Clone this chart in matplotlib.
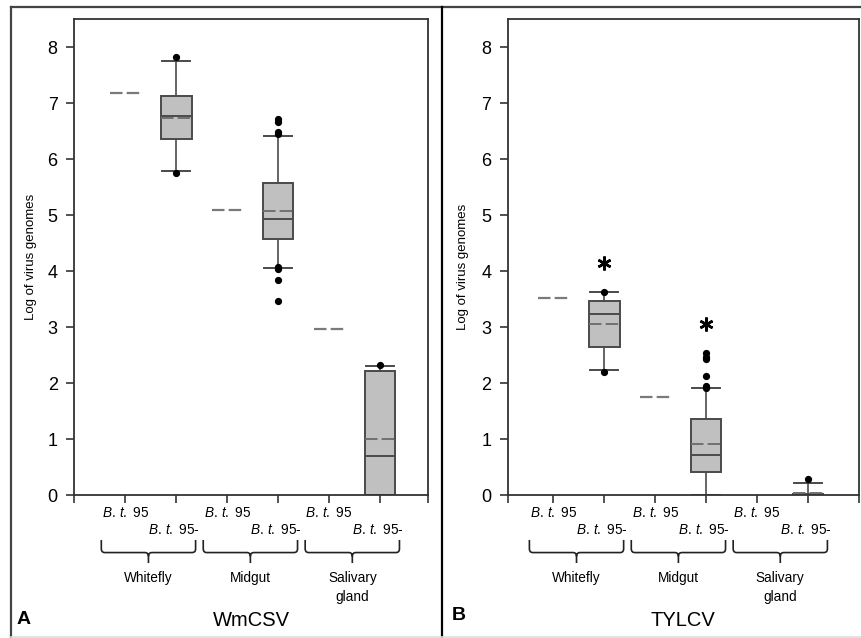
import matplotlib
matplotlib.use("Agg")
import matplotlib.pyplot as plt
from matplotlib.path import Path
from matplotlib.patches import PathPatch
from matplotlib.lines import Line2D

plt.rcParams['font.family'] = ['Liberation Sans', 'DejaVu Sans']
plt.rcParams['mathtext.fontset'] = 'custom'
plt.rcParams['mathtext.it'] = 'Liberation Sans:italic'
plt.rcParams['mathtext.rm'] = 'Liberation Sans'
plt.rcParams['lines.scale_dashes'] = False

# ---------------- data ----------------
groups = ['Whitefly', 'Midgut', 'Salivary\ngland']
species = ['B.', 't.']
strains = ['95', '95-']
panel_titles = ['WmCSV', 'TYLCV']
panel_letters = ['A', 'B']
yticks = [0, 1, 2, 3, 4, 5, 6, 7, 8]

# B. t. 95 single values (dashed mean lines) per group
wm_bt95 = [7.19, 5.09, 2.96]
ty_bt95 = [3.52, 1.76, None]

# B. t. 95- box statistics per group
wm_q1 = [6.37, 4.58, 0.0]
wm_med = [6.78, 4.93, 0.69]
wm_q3 = [7.13, 5.57, 2.22]
wm_mean = [6.74, 5.07, 1.00]
wm_whislo = [5.79, 4.06, 0.0]
wm_whishi = [7.76, 6.42, 2.30]
wm_fliers = [[7.83, 5.76], [6.72, 6.67, 6.49, 6.45, 4.08, 4.03, 3.84, 3.47], [2.33]]

ty_q1 = [2.65, 0.41, 0.0]
ty_med = [3.23, 0.72, 0.0]
ty_q3 = [3.46, 1.35, 0.02]
ty_mean = [3.06, 0.91, 0.03]
ty_whislo = [2.23, 0.0, 0.0]
ty_whishi = [3.63, 1.92, 0.22]
ty_fliers = [[3.63, 2.19], [2.54, 2.47, 2.43, 2.13, 1.95, 1.91], [0.28]]

# significance markers (TYLCV)
ty_star_pos = [2, 4]
ty_star_y = [4.14, 3.05]

# ---------------- figure ----------------
W, H = 861, 638
fig = plt.figure(figsize=(W / 100, H / 100), dpi=100)


def fx(x):
    return x / W


def fy(y):
    return 1 - y / H


def make_axes(left, right, top=19.3, bottom=495):
    return fig.add_axes([fx(left), fy(bottom), fx(right - left), (bottom - top) / H])


axA = make_axes(74.3, 428)
axB = make_axes(508, 859)

edge = '#4a4a4a'
face = '#c0c0c0'
meancol = '#707070'
dash = (0, (9, 3))


def strain_label(s):
    return r'$\mathit{%s}\,\mathit{%s}$ %s' % (species[0], species[1], s)


def draw_panel(ax, bt95, q1, med, q3, mean, wlo, whi, fliers, xlim):
    pos95 = [1 + 2 * i for i in range(len(groups))]
    pos95m = [2 + 2 * i for i in range(len(groups))]
    # single-value dashed lines
    for p, v in zip(pos95, bt95):
        if v is not None:
            ax.hlines(v, p - 0.3, p + 0.3, colors='#7a7a7a', linestyles=dash, lw=1.6, zorder=3)
    stats = []
    for i in range(len(groups)):
        stats.append(dict(q1=q1[i], med=med[i], q3=q3[i], mean=mean[i],
                          whislo=wlo[i], whishi=whi[i], fliers=fliers[i]))
    ax.bxp(stats, positions=pos95m, widths=0.6, capwidths=0.55, patch_artist=True,
           showmeans=True, meanline=True, manage_ticks=False,
           boxprops=dict(facecolor=face, edgecolor=edge, lw=1.4),
           medianprops=dict(color=edge, lw=1.4),
           meanprops=dict(color=meancol, lw=1.4, linestyle=dash),
           whiskerprops=dict(color=edge, lw=1.2),
           capprops=dict(color=edge, lw=1.4),
           flierprops=dict(marker='o', markerfacecolor='black', markeredgecolor='black',
                           markersize=4.2))
    ax.set_xlim(*xlim)
    ax.set_ylim(0, 8.5)
    ax.set_yticks(yticks)
    ax.set_yticklabels([str(t) for t in yticks], fontsize=13)
    ax.set_xticks([xlim[0]] + pos95 + pos95m + [xlim[1]])
    ax.set_xticklabels([])
    ax.tick_params(direction='out', length=6, width=1.2, color='#333333', pad=6)
    for s in ax.spines.values():
        s.set_color('#333333')
        s.set_linewidth(1.3)
    tr = ax.get_xaxis_transform()
    for i, g in enumerate(groups):
        p1, p2 = pos95[i], pos95m[i]
        ax.text(p1, -0.038, strain_label(strains[0]), transform=tr,
                ha='center', va='center', fontsize=9.8, clip_on=False)
        ax.text(p2 - 0.05, -0.0735, strain_label(strains[1]), transform=tr,
                ha='center', va='center', fontsize=9.8, clip_on=False)
        # brace
        x0, x1 = p1 - 0.47, p2 + 0.38
        xc = (x0 + x1) / 2
        ya, yh, yt = -0.0945, -0.121, -0.143
        r, dx = 0.008, 0.07
        verts = [(x0, ya), (x0, yh + r), (x0, yh), (x0 + dx, yh),
                 (xc - dx, yh), (xc, yh), (xc, yh - r), (xc, yt),
                 (xc, yh - r), (xc, yh), (xc + dx, yh),
                 (x1 - dx, yh), (x1, yh), (x1, yh + r), (x1, ya)]
        codes = [Path.MOVETO, Path.LINETO, Path.CURVE3, Path.CURVE3,
                 Path.LINETO, Path.CURVE3, Path.CURVE3, Path.LINETO,
                 Path.MOVETO, Path.CURVE3, Path.CURVE3,
                 Path.LINETO, Path.CURVE3, Path.CURVE3, Path.LINETO]
        ax.add_patch(PathPatch(Path(verts, codes), transform=tr, fill=False,
                               edgecolor='#222222', lw=1.2, clip_on=False))
        ax.text(xc, -0.16, g, transform=tr, ha='center', va='top', fontsize=9.8,
                linespacing=1.45, clip_on=False)


draw_panel(axA, wm_bt95, wm_q1, wm_med, wm_q3, wm_mean, wm_whislo, wm_whishi,
           wm_fliers, (0, 6.94))
draw_panel(axB, ty_bt95, ty_q1, ty_med, ty_q3, ty_mean, ty_whislo, ty_whishi,
           ty_fliers, (0.11, 7.0))

for p, v in zip(ty_star_pos, ty_star_y):
    axB.plot(p, v, marker=(6, 2, 0), markersize=10, markeredgewidth=1.8,
             color='black', linestyle='none')

# y labels
fig.text(fx(31), fy(257), 'Log of virus genomes', rotation=90, ha='center', va='center', fontsize=9.5)
fig.text(fx(463), fy(267), 'Log of virus genomes', rotation=90, ha='center', va='center', fontsize=9.5)

# titles and panel letters
fig.text(fx(251), fy(620), panel_titles[0], ha='center', va='center', fontsize=14.5)
fig.text(fx(683), fy(620), panel_titles[1], ha='center', va='center', fontsize=14.5)
fig.text(fx(17), fy(624), panel_letters[0], ha='left', va='baseline', fontsize=14, fontweight='bold')
fig.text(fx(452), fy(620), panel_letters[1], ha='left', va='baseline', fontsize=14, fontweight='bold')

# frame lines
fig.add_artist(Line2D([fx(11), fx(861)], [fy(6.5), fy(6.5)], color='#444444', lw=1.6))
fig.add_artist(Line2D([fx(11), fx(11)], [fy(6.5), fy(638)], color='#444444', lw=1.6))
fig.add_artist(Line2D([fx(441.5), fx(441.5)], [fy(6.5), fy(638)], color='black', lw=1.6))
fig.add_artist(Line2D([fx(11), fx(861)], [fy(636.5), fy(636.5)], color='#dddddd', lw=1.2))

fig.savefig('out.png', dpi=100)
